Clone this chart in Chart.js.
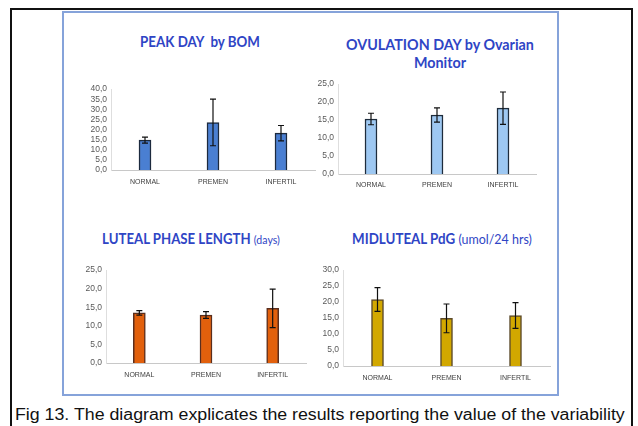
<!DOCTYPE html>
<html>
<head>
<meta charset="utf-8">
<script src="https://cdn.jsdelivr.net/npm/chart.js@4/dist/chart.umd.min.js"></script>
<style>
  html, body { margin: 0; padding: 0; background: #fff; width: 638px; height: 426px; overflow: hidden; position: relative; }
  .outer { position: absolute; left: 10px; top: 8px; width: 623px; height: 440px; border: 2px solid #111; box-sizing: border-box; }
  .frame { position: absolute; left: 62px; top: 11px; width: 497px; height: 385px; border: 2px solid #86a3da; box-sizing: border-box; }
  .title { position: absolute; width: 300px; text-align: center; font-family: Lato, "Open Sans", sans-serif; font-weight: 700; font-size: 15px; line-height: 18px; color: #2f45c5; white-space: nowrap; transform-origin: 50% 50%; }
  .title .sub { font-weight: 400; font-size: 12px; }
  .title .sub2 { font-weight: 400; font-size: 14px; }
  .panel { position: absolute; }
  .caption { position: absolute; left: 15px; top: 406px; font-family: "Liberation Sans", Arial, sans-serif; font-size: 16px; color: #111; white-space: nowrap; transform: scaleX(1.11); transform-origin: 0 50%; }
</style>
</head>
<body>
<div class="outer"></div>
<div class="frame"></div>

<div class="title" style="left:50px; top:32px; transform: scaleX(0.89);">PEAK DAY&nbsp; by BOM</div>
<div class="title" style="left:290px; top:35px; transform: scaleX(0.955);">OVULATION DAY by Ovarian<br>Monitor</div>
<div class="title" style="left:41px; top:229px; transform: scaleX(0.88);">LUTEAL PHASE LENGTH <span class="sub">(days)</span></div>
<div class="title" style="left:292px; top:229px; transform: scaleX(0.89);">MIDLUTEAL PdG <span class="sub2">(umol/24 hrs)</span></div>

<div class="panel" id="p1"><canvas id="c1"></canvas></div>
<div class="panel" id="p2"><canvas id="c2"></canvas></div>
<div class="panel" id="p3"><canvas id="c3"></canvas></div>
<div class="panel" id="p4"><canvas id="c4"></canvas></div>

<div class="caption">Fig 13. The diagram explicates the results reporting the value of the variability</div>

<script>
// ---- Data ----
const categories = ['NORMAL', 'PREMEN', 'INFERTIL'];

const peakDayMeans = [14.8, 23.5, 18.2];
const peakDayErrors = [1.5, 11.5, 3.8];

const ovulationDayMeans = [15.3, 16.4, 18.3];
const ovulationDayErrors = [1.6, 2.0, 4.5];

const lutealLengthMeans = [13.5, 12.9, 14.7];
const lutealLengthErrors = [0.6, 0.9, 5.2];

const midlutealPdgMeans = [20.8, 14.9, 15.8];
const midlutealPdgErrors = [3.7, 4.5, 4.0];

const peakDayTicks = [0, 5, 10, 15, 20, 25, 30, 35, 40];
const ovulationDayTicks = [0, 5, 10, 15, 20, 25];
const lutealLengthTicks = [0, 5, 10, 15, 20, 25];
const midlutealPdgTicks = [0, 5, 10, 15, 20, 25, 30];

// ---- Error bar plugin (uses the chart's own scales) ----
const errorBarPlugin = {
  id: 'errorBars',
  afterDatasetsDraw(chart) {
    const ctx = chart.ctx;
    const yScale = chart.scales.y;
    const meta = chart.getDatasetMeta(0);
    const means = chart.data.datasets[0].data;
    const errs = chart.data.datasets[0].errors;
    ctx.save();
    ctx.strokeStyle = '#111';
    ctx.lineWidth = 1.2;
    meta.data.forEach((bar, i) => {
      const x = bar.x;
      const yTop = yScale.getPixelForValue(means[i] + errs[i]);
      const yBot = yScale.getPixelForValue(means[i] - errs[i]);
      ctx.beginPath();
      ctx.moveTo(x, yTop); ctx.lineTo(x, yBot);
      ctx.moveTo(x - 3, yTop); ctx.lineTo(x + 3, yTop);
      ctx.moveTo(x - 3, yBot); ctx.lineTo(x + 3, yBot);
      ctx.stroke();
    });
    ctx.restore();
  }
};

const fmt = v => Number(v).toFixed(1).replace('.', ',');

function makePanel(id, canvasId, box, means, errors, ticks, fill, border, xPad) {
  const yW = 45, xH = 24, padTop = 8, padRight = 4;
  const left = box.left - yW, top = box.top - padTop;
  const w = box.width + yW + padRight, h = box.height + padTop + xH;
  const div = document.getElementById(id);
  div.style.left = left + 'px';
  div.style.top = top + 'px';
  div.style.width = w + 'px';
  div.style.height = h + 'px';
  const cv = document.getElementById(canvasId);
  cv.width = w; cv.height = h;
  cv.style.width = w + 'px'; cv.style.height = h + 'px';
  new Chart(cv, {
    type: 'bar',
    data: {
      labels: categories,
      datasets: [{
        data: means,
        errors: errors,
        backgroundColor: fill,
        borderColor: border,
        borderWidth: 1.5,
        barThickness: 12
      }]
    },
    options: {
      responsive: false,
      animation: false,
      devicePixelRatio: 1,
      layout: { padding: { top: padTop, right: padRight, left: 0, bottom: 0 } },
      plugins: { legend: { display: false }, title: { display: false }, tooltip: { enabled: false } },
      scales: {
        x: {
          grid: { display: false, drawTicks: false },
          border: { display: true, color: '#c8c8c8', width: 1 },
          ticks: { color: '#404040', font: { family: 'Liberation Sans', size: 7 }, padding: xPad, maxRotation: 0, autoSkip: false },
          afterFit: s => { s.height = xH; }
        },
        y: {
          min: ticks[0], max: ticks[ticks.length - 1],
          grid: { display: false, drawTicks: false },
          border: { display: true, color: '#dedede', width: 1 },
          afterBuildTicks: s => { s.ticks = ticks.map(v => ({ value: v })); },
          ticks: { color: '#595959', font: { family: 'Liberation Sans', size: 8.5 }, padding: 4, callback: fmt, autoSkip: false },
          afterFit: s => { s.width = yW; }
        }
      }
    },
    plugins: [errorBarPlugin]
  });
}

makePanel('p1', 'c1', { left: 111, top: 88, width: 204, height: 82 }, peakDayMeans, peakDayErrors, peakDayTicks, '#4a7fd2', '#1c2a3e', 8);
makePanel('p2', 'c2', { left: 338, top: 83, width: 198, height: 91 }, ovulationDayMeans, ovulationDayErrors, ovulationDayTicks, '#9ec8f2', '#1e2c3c', 6.5);
makePanel('p3', 'c3', { left: 106, top: 269, width: 200, height: 94 }, lutealLengthMeans, lutealLengthErrors, lutealLengthTicks, '#e2600c', '#5a2e1e', 7.5);
makePanel('p4', 'c4', { left: 343, top: 269, width: 207, height: 97 }, midlutealPdgMeans, midlutealPdgErrors, midlutealPdgTicks, '#d2a800', '#5c4a2a', 7.5);
</script>
</body>
</html>
